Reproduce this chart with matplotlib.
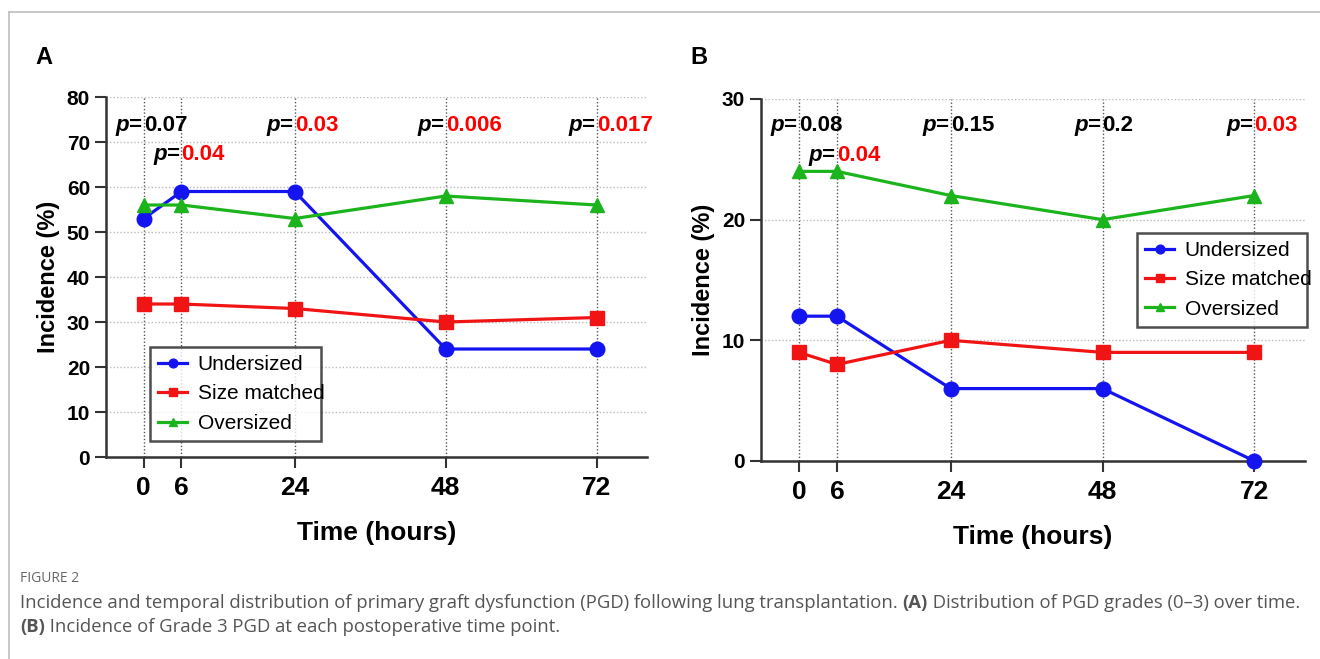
import numpy as np
import matplotlib.pyplot as plt
from matplotlib.lines import Line2D
from matplotlib.transforms import blended_transform_factory, offset_copy

# time points (hours)
hours = [0, 6, 24, 48, 72]
series_names = ['Undersized', 'Size matched', 'Oversized']

# panel A: distribution of PGD grades (%)
a_under = [53, 59, 59, 24, 24]
a_matched = [34, 34, 33, 30, 31]
a_over = [56, 56, 53, 58, 56]
a_pvals = ['0.07', '0.04', '0.03', '0.006', '0.017']

# panel B: incidence of grade 3 PGD (%)
b_under = [12, 12, 6, 6, 0]
b_matched = [9, 8, 10, 9, 9]
b_over = [24, 24, 22, 20, 22]
b_pvals = ['0.08', '0.04', '0.15', '0.2', '0.03']

colors = ['#1414f0', '#f01414', '#1cb41c']
markers = ['o', 's', '^']

arial = ['Liberation Sans', 'DejaVu Sans']

fig = plt.figure(figsize=(13.2, 6.59), dpi=100)


def draw_panel(rect, series, pvals, ymax, ystep, p_rows, legend_rect):
    ax = fig.add_axes(rect)
    for vals, c, m, name in zip(series, colors, markers, series_names):
        ax.plot(hours, vals, color=c, marker=m, markersize=10.5, lw=2.3,
                label=name, clip_on=False, zorder=3)

    ax.set_xlim(-6, 80)
    ax.set_ylim(0, ymax)
    ax.set_xticks(hours)
    ax.set_yticks(np.arange(0, ymax + 1, ystep))

    # dotted grid: darker verticals at the time points, light horizontals
    ax.grid(axis='x', ls=(0, (1, 1.5)), color='#555555', lw=1.0)
    ax.grid(axis='y', ls=(0, (1, 1.5)), color='#bbbbbb', lw=1.0)
    ax.set_axisbelow(True)

    for s in ['top', 'right']:
        ax.spines[s].set_visible(False)
    for s in ['left', 'bottom']:
        ax.spines[s].set_color('#333333')
        ax.spines[s].set_linewidth(1.8)

    ax.tick_params(axis='both', length=8, width=1.5, color='#333333')
    ax.tick_params(axis='x', pad=6)
    for lab in ax.get_xticklabels():
        lab.set_family(arial)
        lab.set_fontsize(19)
        lab.set_fontweight('bold')
    for lab in ax.get_yticklabels():
        lab.set_family(arial)
        lab.set_fontsize(15)
        lab.set_fontweight('bold')

    ax.set_xlabel('Time (hours)', family=arial, fontsize=19,
                  fontweight='bold', labelpad=15)
    ax.set_ylabel('Incidence (%)', family=arial, fontsize=17,
                  fontweight='bold', labelpad=5)

    # p-values above each time point
    trans = blended_transform_factory(ax.transData, ax.transAxes)
    for i, (h, p) in enumerate(zip(hours, pvals)):
        y = p_rows[1] if i == 1 else p_rows[0]
        col = 'red' if float(p) < 0.05 else 'black'
        ax.text(h, y, 'p=', transform=offset_copy(trans, fig, x=-1, units='points'),
                ha='right', va='center', family=arial, fontsize=16,
                fontweight='bold', style='italic', color='black')
        ax.text(h, y, p, transform=offset_copy(trans, fig, x=0, units='points'),
                ha='left', va='center', family=arial, fontsize=16,
                fontweight='bold', color=col)

    leg = ax.legend(loc='lower left', bbox_to_anchor=legend_rect, mode='expand',
                    prop={'family': arial, 'size': 15}, frameon=True,
                    fancybox=False, handlelength=1.4, handletextpad=0.5,
                    markerscale=0.6, borderpad=0.4, labelspacing=0.5,
                    borderaxespad=0)
    leg.get_frame().set_edgecolor('#222222')
    leg.get_frame().set_linewidth(1.8)
    return ax


ax_a = draw_panel([0.0803, 0.3065, 0.4099, 0.5463],
                  [a_under, a_matched, a_over], a_pvals, 80, 10,
                  (0.922, 0.839), (0.081, 0.044, 0.316, 0.284))
ax_b = draw_panel([0.5765, 0.3005, 0.4121, 0.5493],
                  [b_under, b_matched, b_over], b_pvals, 30, 10,
                  (0.928, 0.845), (0.691, 0.370, 0.3125, 0.276))

# panel letters
fig.text(35 / 1320, 1 - 57 / 659, 'A', family=arial, fontsize=17,
         fontweight='bold', va='center')
fig.text(690 / 1320, 1 - 57 / 659, 'B', family=arial, fontsize=17,
         fontweight='bold', va='center')

# page frame lines
fig.add_artist(Line2D([9 / 1320, 1], [1 - 12 / 659, 1 - 12 / 659],
                      color='#bdbdbd', lw=1.2))
fig.add_artist(Line2D([9 / 1320, 9 / 1320], [0, 1 - 12 / 659],
                      color='#bdbdbd', lw=1.2))

# caption
cap = ['Open Sans', 'DejaVu Sans']
fig.text(20 / 1320, 1 - 579 / 659, 'FIGURE 2', family=cap, fontsize=10,
         color='#666666', va='center')

renderer = fig.canvas.get_renderer()


def caption_line(pieces, x, y):
    # draw text pieces one after another, bold where flagged
    for txt, bold in pieces:
        t = fig.text(x, y, txt, family=cap, fontsize=13.3, color='#555555',
                     fontweight='bold' if bold else 'normal', va='center')
        bb = t.get_window_extent(renderer)
        x = x + bb.width / fig.bbox.width


caption_line([('Incidence and temporal distribution of primary graft dysfunction (PGD) '
               'following lung transplantation. ', False), ('(A)', True),
              (' Distribution of PGD grades (0\u20133) over time.', False)],
             20 / 1320, 1 - 603 / 659)
caption_line([('(B)', True),
              (' Incidence of Grade 3 PGD at each postoperative time point.', False)],
             20 / 1320, 1 - 627 / 659)

fig.savefig('out.png', dpi=100)
